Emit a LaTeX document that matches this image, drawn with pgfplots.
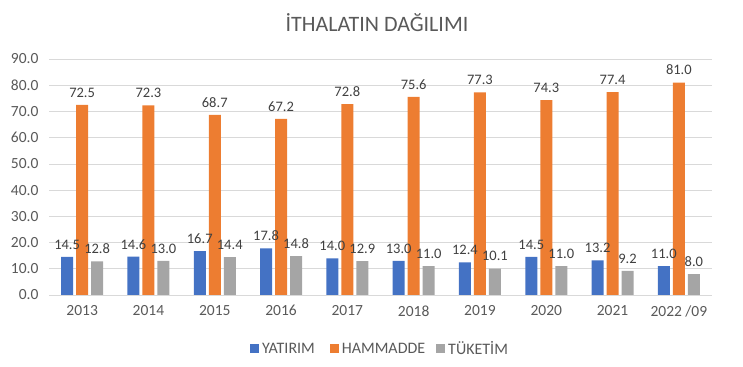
\documentclass[border=0pt]{standalone}
\usepackage{pgfplots}
\pgfplotsset{compat=1.18}
\usepackage{fontspec}
\setmainfont{Carlito}
\definecolor{cblue}{HTML}{4472C4}
\definecolor{corange}{HTML}{ED7D31}
\definecolor{cgray}{HTML}{A5A5A5}
\definecolor{gridc}{HTML}{D9D9D9}
\definecolor{txt}{HTML}{595959}
\definecolor{lbl}{HTML}{404040}
\begin{document}
\begin{tikzpicture}
\path[use as bounding box] (0,0) rectangle (743bp,367bp);
\node[text=txt,font=\fontsize{22bp}{26bp}\selectfont] at (377bp,344bp) {İTHALATIN DAĞILIMI};
\begin{axis}[
  at={(49bp,72bp)}, anchor=south west,
  scale only axis, width=663bp, height=236bp,
  ybar=3bp, bar width=12bp,
  xmin=-0.5, xmax=9.5, ymin=0, ymax=90,
  ytick={0,10,...,90},
  xtick={0,...,9},
  xticklabels={2013,2014,2015,2016,2017,2018,2019,2020,2021,2022 /09},
  /pgf/number format/assume math mode=true,
  /pgf/number format/.cd, fixed, fixed zerofill, precision=1, /pgfplots/.cd,
  ymajorgrids, grid style={gridc, line width=0.75bp},
  axis line style={draw=none},
  major tick length=0pt,
  tick label style={text=txt, font=\fontsize{15.5bp}{18bp}\selectfont},
  yticklabel style={xshift=-7bp},
  xticklabel style={yshift=-7bp},
  nodes near coords,
  nodes near coords style={text=lbl, font=\fontsize{14.5bp}{17bp}\selectfont, anchor=south, yshift=4bp,
    /pgf/number format/.cd, fixed, fixed zerofill, precision=1},
  legend style={at={(0.5,-0.228)}, anchor=center, draw=none, fill=none,
    legend columns=3, font=\fontsize{16bp}{19bp}\selectfont, text=txt,
    nodes={inner xsep=3bp}},
  legend image code/.code={\fill[#1] (0bp,-4bp) rectangle (9bp,5bp);},
]
\addplot[fill=cblue, draw=none] coordinates {(0,14.5) (1,14.6) (2,16.7) (3,17.8) (4,14.0) (5,13.0) (6,12.4) (7,14.5) (8,13.2) (9,11.0)};
\addplot[fill=corange, draw=none] coordinates {(0,72.5) (1,72.3) (2,68.7) (3,67.2) (4,72.8) (5,75.6) (6,77.3) (7,74.3) (8,77.4) (9,81.0)};
\addplot[fill=cgray, draw=none] coordinates {(0,12.8) (1,13.0) (2,14.4) (3,14.8) (4,12.9) (5,11.0) (6,10.1) (7,11.0) (8,9.2) (9,8.0)};
\legend{YATIRIM\hbox to 12bp{},HAMMADDE\hbox to 8bp{},TÜKETİM}
\end{axis}
\end{tikzpicture}
\end{document}
